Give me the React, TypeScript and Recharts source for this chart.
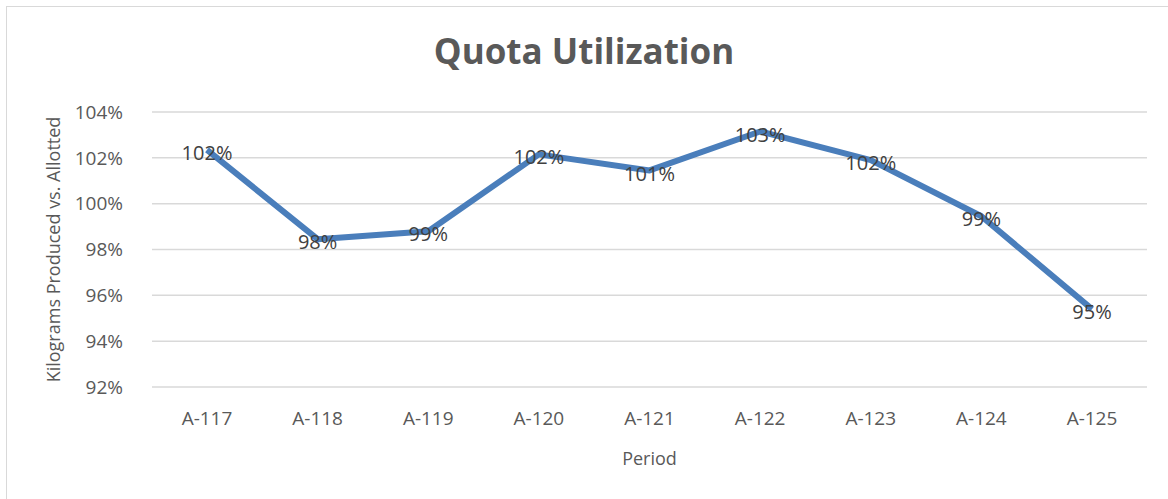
import React from "react";
import { LineChart, Line, XAxis, YAxis, CartesianGrid, LabelList } from "recharts";

const periods = ["A-117", "A-118", "A-119", "A-120", "A-121", "A-122", "A-123", "A-124", "A-125"];
const utilization = [102.35, 98.45, 98.8, 102.15, 101.45, 103.15, 101.9, 99.45, 95.4];
const yTicks = [92, 94, 96, 98, 100, 102, 104];

const data = periods.map((p, i) => ({ period: p, value: utilization[i] }));

const FONT = "'Open Sans', sans-serif";

export default function App() {
  return (
    <div
      style={{
        position: "absolute",
        left: 0,
        top: 0,
        width: 1168,
        height: 499,
        background: "#fff",
        overflow: "hidden",
      }}
    >
      <div
        style={{
          position: "absolute",
          left: 6,
          top: 6,
          width: 1200,
          height: 540,
          border: "1.5px solid #d9d9d9",
          boxSizing: "border-box",
        }}
      />
      <div
        style={{
          position: "absolute",
          left: 0,
          width: 1168,
          top: 27,
          textAlign: "center",
          fontFamily: FONT,
          fontWeight: 700,
          fontSize: 35,
          color: "#595959",
          paddingLeft: 0,
        }}
      >
        Quota Utilization
      </div>
      <div style={{ position: "absolute", left: 0, top: 0 }}>
        <LineChart
          width={1168}
          height={499}
          data={data}
          margin={{ top: 112, right: 21, bottom: 22, left: 72 }}
        >
          <CartesianGrid vertical={false} stroke="#d9d9d9" strokeWidth={1.5} />
          <XAxis
            dataKey="period"
            axisLine={false}
            tickLine={false}
            height={90}
            padding={{ left: 55, right: 55 }}
            tick={{ fill: "#595959", fontSize: 19, fontFamily: FONT }}
            tickMargin={19}
            label={{
              value: "Period",
              position: "insideBottom",
              offset: 12,
              fill: "#595959",
              fontSize: 18,
              fontFamily: FONT,
            }}
          />
          <YAxis
            type="number"
            domain={[92, 104]}
            ticks={yTicks}
            axisLine={false}
            tickLine={false}
            width={80}
            tickMargin={23}
            tickFormatter={(v: number) => `${v}%`}
            tick={{ fill: "#595959", fontSize: 19, fontFamily: FONT }}
            label={{
              value: "Kilograms Produced vs. Allotted",
              angle: -90,
              position: "insideLeft",
              offset: -18,
              style: { textAnchor: "middle" },
              fill: "#595959",
              fontSize: 18,
              fontFamily: FONT,
            }}
          />
          <Line
            type="linear"
            dataKey="value"
            stroke="#4a7ebb"
            strokeWidth={6}
            dot={false}
            strokeLinejoin="round"
            isAnimationActive={false}
          >
            <LabelList
              dataKey="value"
              position="center"
              formatter={(v: number) => `${Math.round(v)}%`}
              fill="#404040"
              fontSize={20}
              fontFamily={FONT}
              dy={3}
            />
          </Line>
        </LineChart>
      </div>
    </div>
  );
}
